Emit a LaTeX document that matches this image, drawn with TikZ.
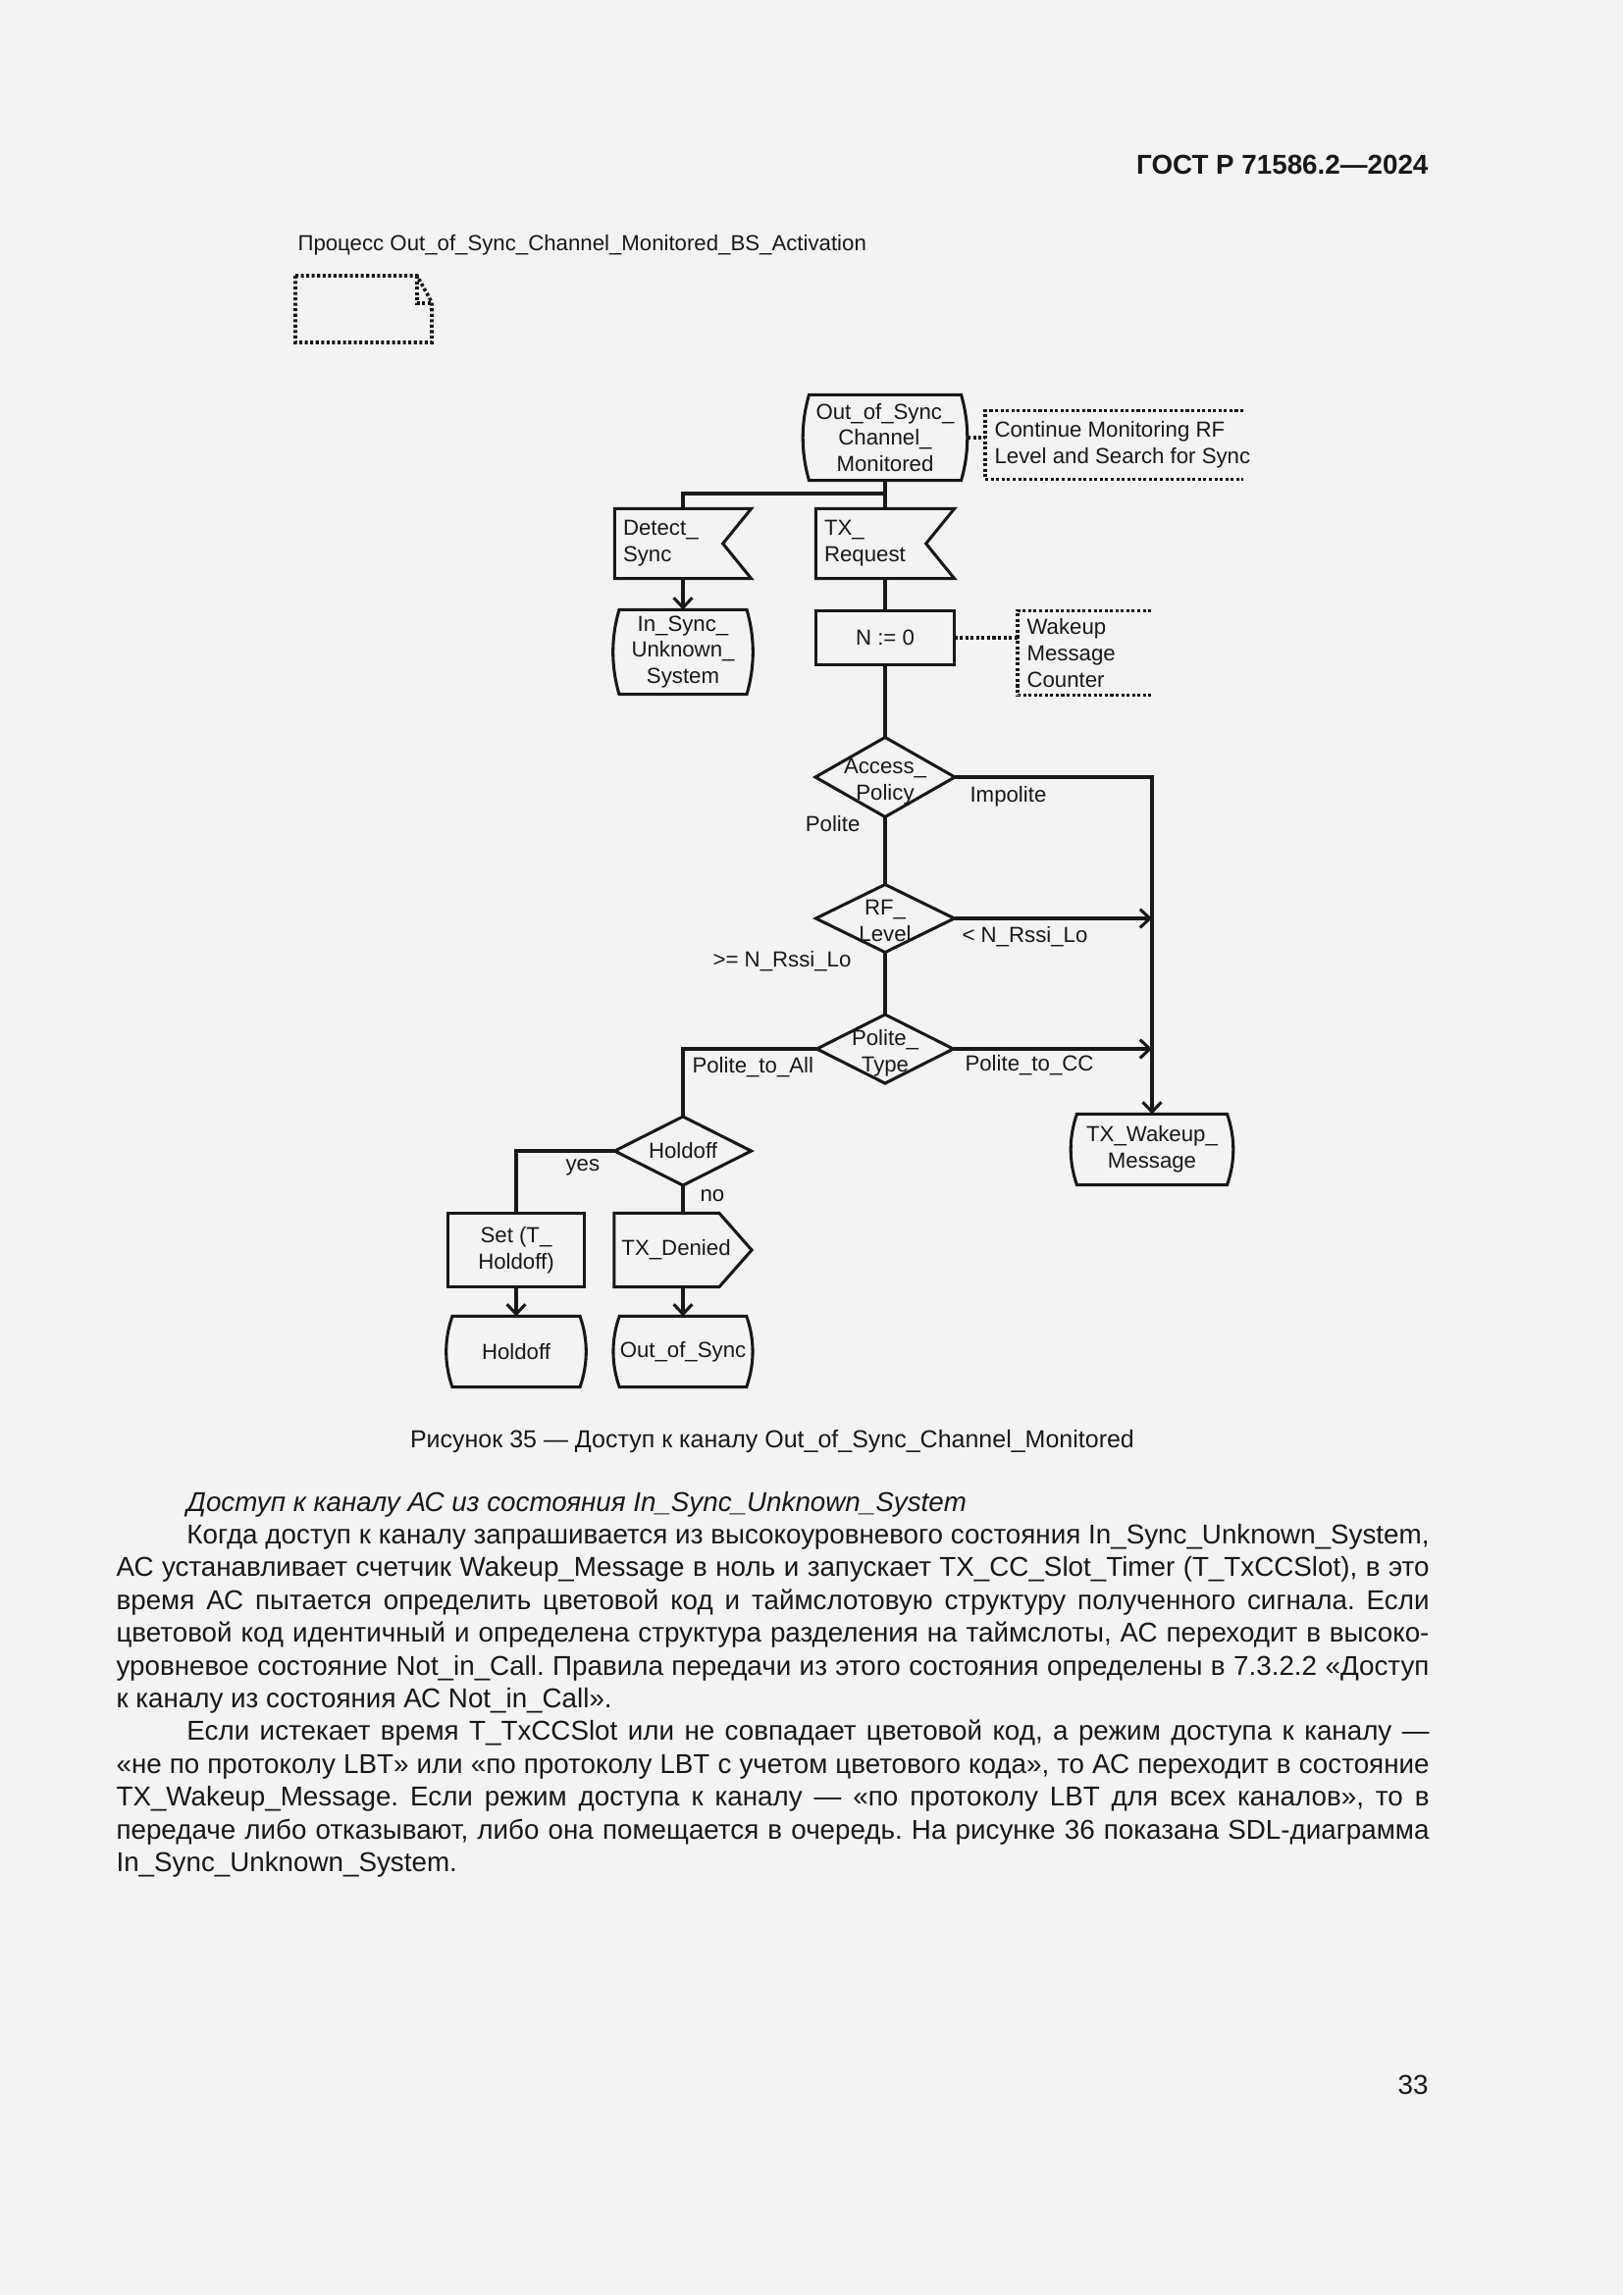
\documentclass[tikz,border=0pt]{standalone}
\usepackage{fontspec}
\setmainfont{Liberation Sans}
\usetikzlibrary{arrows.meta,calc}
\definecolor{bg}{RGB}{243,243,243}
\definecolor{ink}{RGB}{24,24,24}
\newcommand\dfont{\fontsize{8}{9.7}\selectfont}
\tikzset{
  ln/.style={line width=1.1pt, draw=ink},
  arr/.style={ln, -{Straight Barb[length=3.6pt,width=6.8pt]}},
  dot/.style={draw=ink, line width=1.3pt, dash pattern=on 1.1pt off 0.9pt},
  shp/.style={ln, line join=miter},
  bx/.style n args={2}{inner sep=0pt, minimum width=#1*0.36pt, minimum height=#2*0.36pt, align=center, font=\dfont, text=ink},
  inp/.style={inner xsep=2.88pt, inner ysep=0pt, minimum height=#1*0.36pt, align=left, font=\dfont, text=ink},
  cmt/.style={anchor=west, inner xsep=3.24pt, inner ysep=0pt, align=left, font=\dfont, text=ink},
  lbl/.style={inner sep=0pt, font=\dfont, text=ink}
}
\newcommand\drawstate[1]{\draw[shp] (#1.north west)
  .. controls ($(#1.north west)!.33!(#1.south west)+(-3pt,0)$) and ($(#1.north west)!.67!(#1.south west)+(-3pt,0)$) .. (#1.south west)
  -- (#1.south east)
  .. controls ($(#1.south east)!.33!(#1.north east)+(3pt,0)$) and ($(#1.south east)!.67!(#1.north east)+(3pt,0)$) .. (#1.north east)
  -- cycle;}
\newcommand\drawinput[1]{\draw[shp] (#1.north west) -- (#1.north east) -- ($(#1.east)+(-10.4pt,0)$) -- (#1.south east) -- (#1.south west) -- cycle;}
\newcommand\drawoutput[1]{\draw[shp] (#1.north west) -- ($(#1.north east)+(-11.9pt,0)$) -- (#1.east) -- ($(#1.south east)+(-11.9pt,0)$) -- (#1.south west) -- cycle;}
\newcommand\drawdiamond[1]{\draw[shp] (#1.north) -- (#1.east) -- (#1.south) -- (#1.west) -- cycle;}
\newcommand\drawtask[1]{\draw[shp] (#1.north west) rectangle (#1.south east);}
\newcommand\drawcomment[2]{\draw[dot] ($(#1.north west)+(#2,0)$) -- (#1.north west) -- (#1.south west) -- ++(#2,0);}
\newcommand\Jl[1]{\makebox[\linewidth][s]{#1}\par}
\newcommand\Il[1]{\hspace*{25.9pt}\makebox[\dimexpr\linewidth-25.9pt\relax][s]{#1}\par}
\newcommand\Ll[1]{\makebox[\linewidth][l]{#1}\par}
\newcommand\dn[1]{\raisebox{-1.6pt}[\height][\depth]{\begin{tabular}{@{}c@{}}#1\end{tabular}}}
\begin{document}
\frenchspacing
\begin{tikzpicture}[x=0.36pt,y=-0.36pt]
\fill[bg] (0,0) rectangle (1654,2339);
\useasboundingbox (0,0) rectangle (1654,2339);

% header
\node[anchor=base east, inner sep=0pt, text=ink, font=\fontsize{10}{12}\selectfont\bfseries] (hdr) at (1456,177) {ГОСТ Р 71586.2—2024};

% process title and symbol
\node[anchor=base west, inner sep=0pt, text=ink, font=\dfont] (proc) at (303,255) {Процесс Out\_of\_Sync\_Channel\_Monitored\_BS\_Activation};
\draw[dot] (301,281) -- (425,281) -- (440,308) -- (440,349) -- (301,349) -- cycle;
\draw[dot] (425,281) -- (425,309) -- (440,309);

% nodes
\node[bx={154}{86}] (osc) at (902,446) {Out\_of\_Sync\_\\Channel\_\\Monitored};
\node[inp=70, minimum width=49.68pt, text width=43.9pt] (dsync) at (696,554) {Detect\_\\Sync};
\node[inp=70, minimum width=50.4pt, text width=44.6pt] (txreq) at (902,554) {TX\_\\Request};
\node[bx={129}{85}] (insync) at (696,664.5) {In\_Sync\_\\Unknown\_\\System};
\node[bx={140}{54}] (n0) at (902,650) {N := 0};
\node[bx={141}{80}] (ap) at (902,792) {\dn{Access\_\\Policy}};
\node[bx={140}{68}] (rf) at (902,936) {\dn{RF\_\\Level}};
\node[bx={138}{69}] (pt) at (902,1069) {\dn{Polite\_\\Type}};
\node[bx={138}{69}] (ho) at (696,1173) {Holdoff};
\node[bx={152}{71}] (txw) at (1174,1171.5) {TX\_Wakeup\_\\Message};
\node[bx={137}{74}] (set) at (526,1274) {Set (T\_\\Holdoff)};
\node[bx={139}{74}] (txd) at (696,1274) {\hspace*{-5pt}TX\_Denied};
\node[bx={129}{71}] (hs) at (526,1377.5) {Holdoff};
\node[bx={128}{71}] (oos) at (696,1377.5) {Out\_of\_Sync};

\drawstate{osc}
\drawinput{dsync}
\drawinput{txreq}
\drawstate{insync}
\drawtask{n0}
\drawdiamond{ap}
\drawdiamond{rf}
\drawdiamond{pt}
\drawdiamond{ho}
\drawstate{txw}
\drawtask{set}
\drawoutput{txd}
\drawstate{hs}
\drawstate{oos}

% comments
\node[cmt, minimum height=24.84pt] (cm1) at (1004,453.5) {Continue Monitoring RF\\Level and Search for Sync};
\node[cmt, minimum height=30.6pt] (cm2) at (1037,665.5) {Wakeup\\Message\\Counter};
\drawcomment{cm1}{94.7pt}
\drawcomment{cm2}{49pt}
\draw[dot, shorten <=2.4pt] (osc.east) -- (osc.east -| cm1.west);
\draw[dot] (n0.east) -- (n0.east -| cm2.west);

% connectors
\coordinate (br) at (902,503);
\draw[ln] (osc.south) -- (txreq.north);
\draw[ln] (br) -| (dsync.north);
\draw[arr] (dsync.south) -- (insync.north);
\draw[ln] (txreq.south) -- (n0.north);
\draw[ln] (n0.south) -- (ap.north);
\draw[arr] (ap.east) -| (txw.north);
\draw[ln] (ap.south) -- (rf.north);
\draw[arr] (rf.east) -- (rf.east -| txw.north);
\draw[ln] (rf.south) -- (pt.north);
\draw[arr] (pt.east) -- (pt.east -| txw.north);
\draw[ln] (pt.west) -| (ho.north);
\draw[ln] (ho.west) -| (set.north);
\draw[ln] (ho.south) -- (txd.north);
\draw[arr] (set.south) -- (hs.north);
\draw[arr] (txd.south) -- (oos.north);

% labels
\node[lbl, anchor=west] (limp) at (988,812) {Impolite};
\node[lbl, anchor=east] (lpol) at (877,840) {Polite};
\node[lbl, anchor=west] (llt) at (980,955) {< N\_Rssi\_Lo};
\node[lbl, anchor=east] (lge) at (868,980) {>= N\_Rssi\_Lo};
\node[lbl, anchor=west] (lcc) at (983,1086) {Polite\_to\_CC};
\node[lbl, anchor=west] (lall) at (705,1088) {Polite\_to\_All};
\node[lbl, anchor=west] (lyes) at (576,1190) {yes};
\node[lbl, anchor=west] (lno) at (713,1219) {no};

% caption
\node[anchor=base, inner sep=0pt, text=ink, font=\fontsize{9}{11}\selectfont] (cap) at (787,1475) {Рисунок 35 — Доступ к каналу Out\_of\_Sync\_Channel\_Monitored};

% body text
\node[anchor=base west, inner sep=0pt, text=ink] (body) at (118,1540) {\parbox[t]{481.7pt}{\fontsize{10}{12.03}\selectfont\parindent=0pt
\hspace*{25.9pt}\textit{Доступ к каналу АС из состояния In\_Sync\_Unknown\_System}\par
\Il{Когда доступ к каналу запрашивается из высокоуровневого состояния In\_Sync\_Unknown\_System,}
\Jl{АС устанавливает счетчик Wakeup\_Message в ноль и запускает TX\_CC\_Slot\_Timer (T\_TxCCSlot), в это}
\Jl{время АС пытается определить цветовой код и таймслотовую структуру полученного сигнала. Если}
\Jl{цветовой код идентичный и определена структура разделения на таймслоты, АС переходит в высоко-}
\Jl{уровневое состояние Not\_in\_Call. Правила передачи из этого состояния определены в 7.3.2.2 «Доступ}
\Ll{к каналу из состояния АС Not\_in\_Call».}
\Il{Если истекает время T\_TxCCSlot или не совпадает цветовой код, а режим доступа к каналу —}
\Jl{«не по протоколу LBT» или «по протоколу LBT с учетом цветового кода», то АС переходит в состояние}
\Jl{TX\_Wakeup\_Message. Если режим доступа к каналу — «по протоколу LBT для всех каналов», то в}
\Jl{передаче либо отказывают, либо она помещается в очередь. На рисунке 36 показана SDL-диаграмма}
\Ll{In\_Sync\_Unknown\_System.}
}};

% page number
\node[anchor=base east, inner sep=0pt, text=ink, font=\fontsize{10}{12}\selectfont] (pg) at (1456,2134) {33};
\end{tikzpicture}
\end{document}
